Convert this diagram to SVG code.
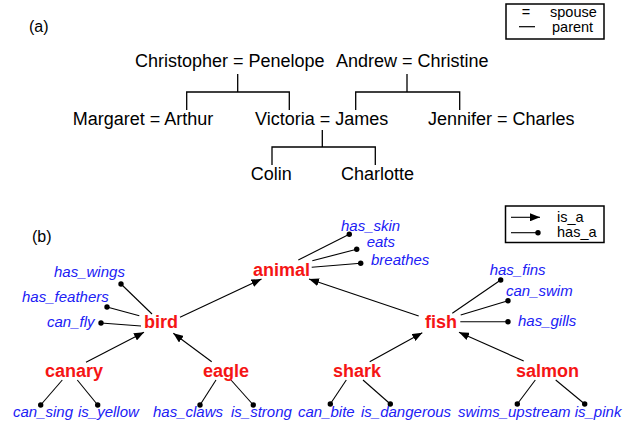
<svg xmlns="http://www.w3.org/2000/svg" width="638" height="423" viewBox="0 0 638 423">
<style>
.fam{font-family:"Liberation Sans",Arial,sans-serif;font-size:18px;fill:#000}
.lbl{font-family:"Liberation Sans",Arial,sans-serif;font-size:16px;fill:#000}
.leg{font-family:"Liberation Sans",Arial,sans-serif;font-size:14.5px;fill:#000}
.con{font-family:"Liberation Sans",Arial,sans-serif;font-size:18px;font-weight:bold;fill:#f51515}
.att{font-family:"Liberation Sans",Arial,sans-serif;font-size:15px;font-style:italic;fill:#2020f5}
.tree{stroke:#000;stroke-width:1.3;fill:none}
.isa{stroke:#000;stroke-width:1.1;fill:none;marker-end:url(#arr)}
.hasa{stroke:#000;stroke-width:1.1;fill:none;marker-end:url(#dot)}
.box{fill:none;stroke:#000;stroke-width:1.5}
</style>
<defs>
<marker id="arr" markerUnits="userSpaceOnUse" markerWidth="10" markerHeight="8" viewBox="0 0 10 8" refX="10" refY="4" orient="auto"><path d="M0,0 L10,4 L0,8 z" fill="#000"/></marker>
<marker id="dot" markerUnits="userSpaceOnUse" markerWidth="6" markerHeight="6" viewBox="-3 -3 6 6" refX="0" refY="0"><circle r="2.7" fill="#000"/></marker>
</defs>
<rect width="638" height="423" fill="#fff"/>

<text class="lbl" x="29" y="32" font-size="17">(a)</text>
<text class="lbl" x="32" y="242" font-size="17">(b)</text>

<g id="legend-a">
<rect class="box" x="506" y="4" width="98" height="35"/>
<text class="leg" x="526" y="17" text-anchor="middle" font-size="13.5">=</text>
<line x1="519" y1="26.7" x2="535" y2="26.7" stroke="#000" stroke-width="1.2"/>
<text class="leg" x="550" y="17" font-size="14">spouse</text>
<text class="leg" x="552" y="32" font-size="14">parent</text>
</g>

<g id="legend-b">
<rect class="box" x="505.5" y="206" width="98.5" height="36.5"/>
<line class="isa" x1="511" y1="217.3" x2="540" y2="217.3"/>
<line class="hasa" x1="511" y1="232.7" x2="538" y2="232.7"/>
<text class="leg" x="557" y="222">is_a</text>
<text class="leg" x="557" y="237">has_a</text>
</g>

<g id="connectors">
<path class="tree" d="M237.7,74 V92 M186.7,110 V92 H289.3 V110"/>
<path class="tree" d="M407,74 V92 M355.7,110 V92 H459.7 V110"/>
<path class="tree" d="M322.3,130 V147 M272,165 V147 H375.3 V165"/>

<line class="isa" x1="180" y1="317.3" x2="261.5" y2="279"/>
<line class="isa" x1="418.7" y1="316" x2="309" y2="279"/>
<line class="isa" x1="86" y1="362.3" x2="144" y2="332.3"/>
<line class="isa" x1="211.7" y1="361.7" x2="173.3" y2="333.3"/>
<line class="isa" x1="369.7" y1="361.7" x2="422.3" y2="332.7"/>
<line class="isa" x1="523.7" y1="361" x2="459" y2="332.3"/>

<line class="hasa" x1="298.3" y1="260" x2="349.3" y2="234.3"/>
<line class="hasa" x1="312.3" y1="260.7" x2="356.7" y2="249.3"/>
<line class="hasa" x1="311.7" y1="267.3" x2="360.7" y2="263.3"/>

<line class="hasa" x1="152" y1="314" x2="121" y2="284"/>
<line class="hasa" x1="139.3" y1="315.7" x2="107" y2="307"/>
<line class="hasa" x1="141" y1="326" x2="101" y2="323"/>

<line class="hasa" x1="452.3" y1="313.3" x2="500.7" y2="280"/>
<line class="hasa" x1="460.7" y1="315" x2="508" y2="300.7"/>
<line class="hasa" x1="460.3" y1="321.7" x2="508" y2="321.7"/>

<line class="hasa" x1="62.3" y1="380" x2="40.7" y2="405"/>
<line class="hasa" x1="77.3" y1="380" x2="97.7" y2="405"/>
<line class="hasa" x1="216" y1="380" x2="200" y2="405"/>
<line class="hasa" x1="231" y1="380" x2="253.3" y2="405"/>
<line class="hasa" x1="346.3" y1="380" x2="330.3" y2="404"/>
<line class="hasa" x1="363" y1="380" x2="390.3" y2="404"/>
<line class="hasa" x1="535.3" y1="380" x2="517.3" y2="404"/>
<line class="hasa" x1="555.7" y1="380" x2="584.7" y2="404"/>
</g>

<g id="christopher-penelope"><text class="fam" x="135" y="67">Christopher = Penelope</text></g>
<g id="andrew-christine"><text class="fam" x="336" y="67">Andrew = Christine</text></g>
<g id="margaret-arthur"><text class="fam" x="72.7" y="125">Margaret = Arthur</text></g>
<g id="victoria-james"><text class="fam" x="255" y="125">Victoria = James</text></g>
<g id="jennifer-charles"><text class="fam" x="428" y="125">Jennifer = Charles</text></g>
<g id="colin"><text class="fam" x="250.7" y="180">Colin</text></g>
<g id="charlotte"><text class="fam" x="341" y="180">Charlotte</text></g>

<g id="animal"><text class="con" x="253" y="276">animal</text></g>
<g id="bird"><text class="con" x="144" y="328">bird</text></g>
<g id="fish"><text class="con" x="425" y="328">fish</text></g>
<g id="canary"><text class="con" x="45" y="377">canary</text></g>
<g id="eagle"><text class="con" x="203" y="377">eagle</text></g>
<g id="shark"><text class="con" x="333" y="377">shark</text></g>
<g id="salmon"><text class="con" x="516" y="377">salmon</text></g>

<g id="has_skin"><text class="att" x="341" y="231">has_skin</text></g>
<g id="eats"><text class="att" x="366.7" y="247">eats</text></g>
<g id="breathes"><text class="att" x="371" y="265">breathes</text></g>
<g id="has_wings"><text class="att" x="54" y="277">has_wings</text></g>
<g id="has_feathers"><text class="att" x="22" y="302">has_feathers</text></g>
<g id="can_fly"><text class="att" x="47" y="327">can_fly</text></g>
<g id="has_fins"><text class="att" x="489.7" y="275">has_fins</text></g>
<g id="can_swim"><text class="att" x="506" y="296">can_swim</text></g>
<g id="has_gills"><text class="att" x="518" y="326">has_gills</text></g>
<g id="can_sing"><text class="att" x="13" y="417">can_sing</text></g>
<g id="is_yellow"><text class="att" x="78" y="417">is_yellow</text></g>
<g id="has_claws"><text class="att" x="153" y="417">has_claws</text></g>
<g id="is_strong"><text class="att" x="231" y="417">is_strong</text></g>
<g id="can_bite"><text class="att" x="298" y="417">can_bite</text></g>
<g id="is_dangerous"><text class="att" x="361" y="417">is_dangerous</text></g>
<g id="swims_upstream"><text class="att" x="458" y="417">swims_upstream</text></g>
<g id="is_pink"><text class="att" x="574.7" y="417">is_pink</text></g>
</svg>
